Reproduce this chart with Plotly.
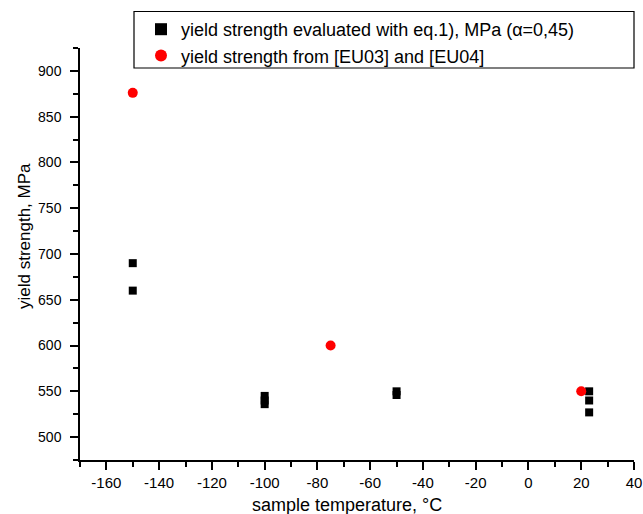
import plotly.graph_objects as go

# Data
sq_temp = [-150, -150, -100, -100, -100, -50, -50, 23, 23, 23]
sq_yield = [690, 660, 545, 540, 536, 550, 546, 550, 540, 527]
red_temp = [-150, -75, 20]
red_yield = [876, 600, 550]

x_ticks = [-160, -140, -120, -100, -80, -60, -40, -20, 0, 20, 40]
y_ticks = [500, 550, 600, 650, 700, 750, 800, 850, 900]

sq_name = "yield strength evaluated with eq.1), MPa (α=0,45)"
red_name = "yield strength from [EU03] and [EU04]"

fig = go.Figure()
fig.add_trace(go.Scatter(x=sq_temp, y=sq_yield, mode="markers", name=sq_name,
                         marker=dict(symbol="square", size=8, color="black")))
fig.add_trace(go.Scatter(x=red_temp, y=red_yield, mode="markers", name=red_name,
                         marker=dict(symbol="circle", size=10, color="red")))

font = "Liberation Sans, Arial, sans-serif"
L, R, T, B = 80, 9, 48, 54
W, H = 643, 514
PW, PH = W - L - R, H - B - T


def px(x):
    return (x - L) / PW


def py(y):
    return (H - B - y) / PH


fig.update_layout(
    width=W, height=H,
    margin=dict(l=L, r=R, t=T, b=B, autoexpand=False),
    plot_bgcolor="white", paper_bgcolor="white",
    font=dict(family=font, size=15, color="black"),
    legend=dict(x=px(141), y=py(11), xanchor="left", yanchor="top",
                borderwidth=0, bgcolor="rgba(0,0,0,0)",
                font=dict(size=18), itemsizing="constant", tracegroupgap=0),
    showlegend=True,
    shapes=[dict(type="rect", xref="paper", yref="paper",
                 x0=px(134), x1=px(634), y0=py(68), y1=py(11.5),
                 line=dict(color="black", width=1.2), fillcolor="rgba(0,0,0,0)",
                 layer="above")],
    annotations=[
        dict(text="sample temperature, °C", xref="paper", yref="paper",
             x=px(347), y=py(505), xanchor="center", yanchor="middle",
             showarrow=False, font=dict(size=18)),
        dict(text="yield strength, MPa", xref="paper", yref="paper",
             x=px(24), y=py(236), xanchor="center", yanchor="middle",
             showarrow=False, textangle=-90, font=dict(size=17)),
    ],
)
fig.update_xaxes(range=[-170, 40], tickvals=x_ticks, ticktext=[str(v) for v in x_ticks],
                 showgrid=False, zeroline=False, automargin=False,
                 showline=True, linecolor="black", linewidth=1.5,
                 ticks="outside", ticklen=8, tickwidth=1.5, tickcolor="black",
                 minor=dict(ticks="outside", ticklen=5, dtick=10, tick0=-170, tickcolor="black", tickwidth=1.5),
                 tickfont=dict(size=15))
fig.update_yaxes(range=[475, 925], tickvals=y_ticks, ticktext=[str(v) for v in y_ticks],
                 showgrid=False, zeroline=False, automargin=False,
                 showline=True, linecolor="black", linewidth=1.5,
                 ticks="outside", ticklen=8, tickwidth=1.5, tickcolor="black",
                 ticklabelstandoff=6,
                 minor=dict(ticks="outside", ticklen=5, dtick=25, tick0=475, tickcolor="black", tickwidth=1.5),
                 tickfont=dict(size=14))

fig.write_html("out.html")
